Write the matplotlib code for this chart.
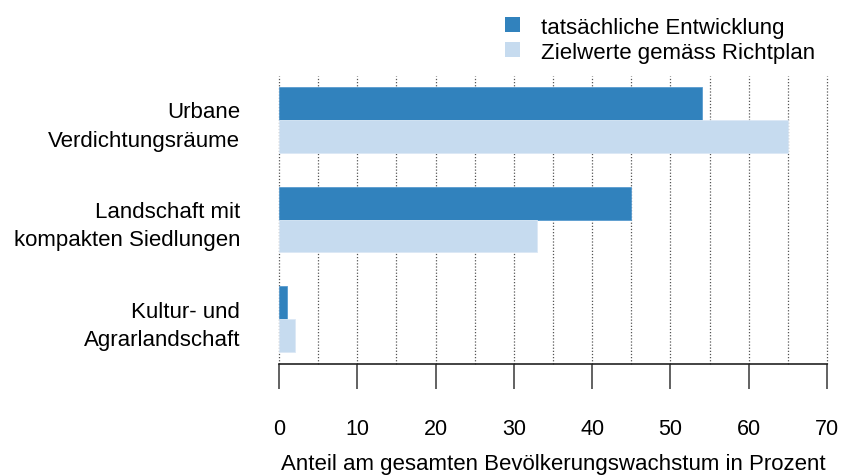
import numpy as np
import matplotlib.pyplot as plt
from matplotlib.patches import Patch

plt.rcParams['font.family'] = ['Liberation Sans', 'DejaVu Sans']

# Daten
kategorien = ['Urbane\nVerdichtungsräume', 'Landschaft mit\nkompakten Siedlungen', 'Kultur- und\nAgrarlandschaft']
tatsaechlich = [54, 45, 1]
zielwerte = [65, 33, 2]
serien = ['tatsächliche Entwicklung', 'Zielwerte gemäss Richtplan']

farbe_dunkel = '#3182bd'
farbe_hell = '#c6dbef'

fig = plt.figure(figsize=(8.42, 4.77), dpi=100)
ax = fig.add_axes([279 / 842, 1 - 365 / 477, (827 - 279) / 842, (365 - 77) / 477])

y = np.arange(len(kategorien))
h = 0.33
ax.barh(y - h / 2, tatsaechlich, height=h, color=farbe_dunkel, edgecolor='#5a9bcf', linewidth=0.6, zorder=3)
ax.barh(y + h / 2, zielwerte, height=h, color=farbe_hell, edgecolor='#dbe8f5', linewidth=0.6, zorder=3)

ax.set_xlim(0, 70)
ax.set_ylim(2.45, -0.44)

# Gitterlinien alle 5 Prozent
for gx in np.arange(0, 71, 5):
    ax.axvline(gx, color='#555555', linestyle=(0, (1, 1.5)), linewidth=0.9, zorder=1, clip_on=False)

for s in ['top', 'left', 'right']:
    ax.spines[s].set_visible(False)
ax.spines['bottom'].set_linewidth(1.2)
ax.spines['bottom'].set_color('#222222')

ax.set_xticks(np.arange(0, 71, 10))
ax.tick_params(axis='x', length=18, width=1.3, color='#555555', pad=21, labelsize=15.5)
ax.set_yticks(y)
ax.set_yticklabels(kategorien, fontsize=16, linespacing=1.45)
ax.tick_params(axis='y', length=0, pad=28)
for lbl in ax.get_yticklabels():
    lbl.set_horizontalalignment('right')

ax.set_xlabel('Anteil am gesamten Bevölkerungswachstum in Prozent', fontsize=16, labelpad=10)

handles = [Patch(facecolor=farbe_dunkel), Patch(facecolor=farbe_hell)]
fig.legend(handles, serien, loc='upper left', bbox_to_anchor=(485 / 842, 1.005), frameon=False,
           fontsize=16, handlelength=0.68, handleheight=0.68, handletextpad=0.95, labelspacing=0.18)

fig.savefig('out.png', dpi=100)
